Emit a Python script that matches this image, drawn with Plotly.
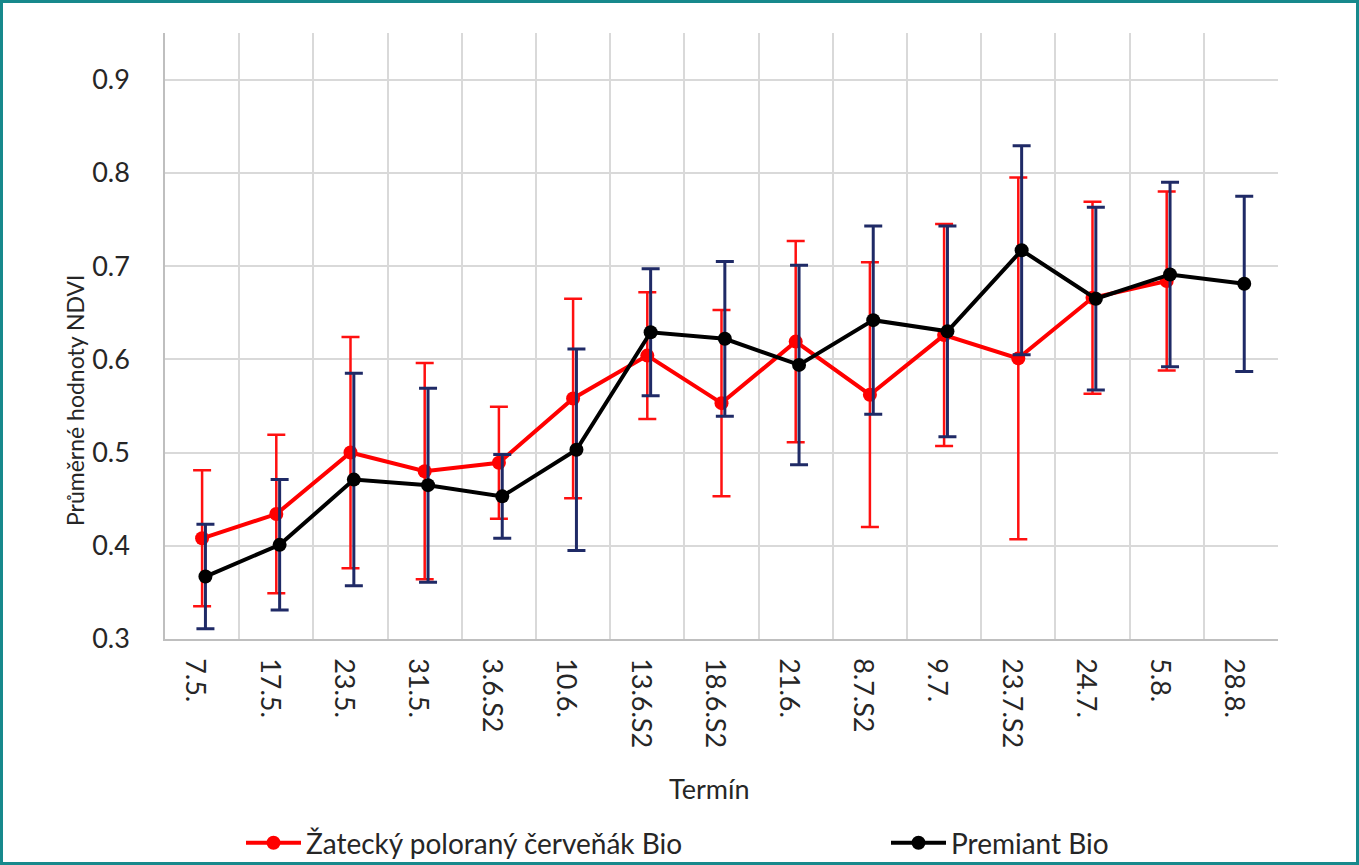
import plotly.graph_objects as go

categories = ["7.5.", "17.5.", "23.5.", "31.5.", "3.6.S2", "10.6.", "13.6.S2", "18.6.S2",
              "21.6.", "8.7.S2", "9.7.", "23.7.S2", "24.7.", "5.8.", "28.8."]

zatec_mean = [0.408, 0.434, 0.500, 0.480, 0.489, 0.558, 0.604, 0.553, 0.619, 0.562,
              0.626, 0.601, 0.666, 0.684, None]
zatec_sd = [0.073, 0.085, 0.124, 0.116, 0.060, 0.107, 0.068, 0.100, 0.108, 0.142,
            0.119, 0.194, 0.103, 0.096, None]

premiant_mean = [0.367, 0.401, 0.471, 0.465, 0.453, 0.503, 0.629, 0.622, 0.594, 0.642,
                 0.630, 0.717, 0.665, 0.691, 0.681]
premiant_sd = [0.056, 0.070, 0.114, 0.104, 0.045, 0.108, 0.068, 0.083, 0.107, 0.101,
               0.113, 0.112, 0.098, 0.099, 0.094]

series_names = ["Žatecký poloraný červeňák Bio", "Premiant Bio"]

W, H = 1359, 865
ML, MR, MT, MB = 165, 81, 33, 226
PW, PH = W - ML - MR, H - MT - MB

FONT = "Lato"
TXT = "#262626"
GRID = "#d9d9d9"

idx = list(range(len(categories)))
x_red = idx
x_black = [i + 0.045 for i in idx]

fig = go.Figure()
fig.add_trace(go.Scatter(
    x=x_red, y=zatec_mean, name=series_names[0], mode="lines+markers",
    line=dict(color="#ff0000", width=4), marker=dict(color="#ff0000", size=14),
    error_y=dict(type="data", array=zatec_sd, visible=True, color="#ff1010",
                 thickness=2.5, width=9),
    connectgaps=False, legend="legend",
))
fig.add_trace(go.Scatter(
    x=x_black, y=premiant_mean, name=series_names[1], mode="lines+markers",
    line=dict(color="#000000", width=4), marker=dict(color="#000000", size=14),
    error_y=dict(type="data", array=premiant_sd, visible=True, color="#1f2a66",
                 thickness=3, width=9),
    legend="legend2",
))

legend_common = dict(orientation="h", xanchor="left",
                     y=(MT + PH - 843) / PH, yanchor="middle",
                     font=dict(size=28, family=FONT, color=TXT),
                     itemwidth=55, bgcolor="rgba(0,0,0,0)")

fig.update_layout(
    width=W, height=H,
    margin=dict(l=ML, r=MR, t=MT, b=MB, autoexpand=False),
    paper_bgcolor="white", plot_bgcolor="white",
    font=dict(family=FONT, color=TXT, size=27),
    showlegend=True,
    legend=dict(x=(241 - ML) / PW, **legend_common),
    legend2=dict(x=(886 - ML) / PW, **legend_common),
    xaxis=dict(range=[-0.5, len(categories) - 0.5], tickmode="array",
               tickvals=idx, ticktext=categories, tickangle=90,
               showgrid=False, zeroline=False,
               showline=True, linecolor="#bfbfbf", linewidth=1.5,
               ticks="", ticklabelstandoff=12, ticklabelshift=-7,
               tickfont=dict(size=27, family=FONT, color=TXT),
               minor=dict(tickmode="array",
                          tickvals=[i - 0.5 for i in range(len(categories) + 1)],
                          showgrid=True, gridcolor=GRID, gridwidth=1.5, ticks=""),
               automargin=False),
    yaxis=dict(range=[0.3, 0.95], tickmode="linear", tick0=0.3, dtick=0.1,
               tickformat=".1f", showgrid=True, gridcolor=GRID, gridwidth=1.5,
               zeroline=False, showline=True, linecolor="#bfbfbf", linewidth=1.5,
               ticks="", ticklabelstandoff=28,
               tickfont=dict(size=27, family=FONT, color=TXT),
               automargin=False),
    annotations=[
        dict(text="Termín", xref="paper", yref="paper",
             x=(709 - ML) / PW, y=(MT + PH - 788) / PH,
             xanchor="center", yanchor="middle", showarrow=False,
             font=dict(size=27, family=FONT, color=TXT)),
        dict(text="Průměrné hodnoty NDVI", xref="paper", yref="paper",
             x=(75 - ML) / PW, y=(MT + PH - 400) / PH, textangle=-90,
             xanchor="center", yanchor="middle", showarrow=False,
             font=dict(size=23, family=FONT, color=TXT)),
    ],
    shapes=[dict(type="rect", xref="paper", yref="paper",
                 x0=(1.5 - ML) / PW, x1=(W - 1.5 - ML) / PW,
                 y0=(MT + PH - (H - 1.5)) / PH, y1=(MT + PH - 1.5) / PH,
                 line=dict(color="#17898c", width=3), layer="above")],
)

fig.write_html("out.html",
               config={"displayModeBar": False},
               post_script="document.body.style.margin='0';"
                           "document.body.style.overflow='hidden';")
